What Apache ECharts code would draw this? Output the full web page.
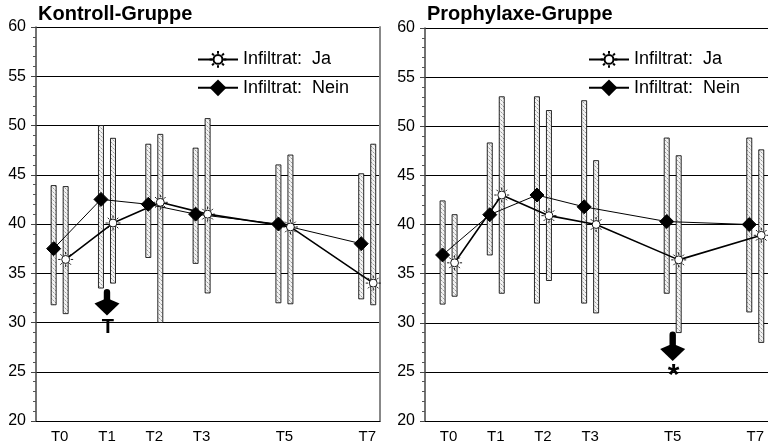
<!DOCTYPE html>
<html>
<head>
<meta charset="utf-8">
<script src="https://cdn.jsdelivr.net/npm/echarts@6/dist/echarts.min.js"></script>
<style>
  html, body { margin: 0; padding: 0; background: #fff; }
  #chart { width: 768px; height: 444px; }
</style>
</head>
<body>
<div id="chart"></div>
<script>
// Measurement times and their positions along the time axis
const timeLabels = ['T0', 'T1', 'T2', 'T3', 'T5', 'T7'];
const timePos = [0, 1, 2, 3, 4.75, 6.5];

// Kontroll-Gruppe: mean and range per time point
const kontrollJaMean   = [36.4, 40.1, 42.2, 41.0, 39.7, 34.0];
const kontrollJaLow    = [30.9, 34.0, 30.0, 33.0, 31.9, 31.8];
const kontrollJaHigh   = [43.8, 48.7, 49.1, 50.7, 47.0, 48.1];
const kontrollNeinMean = [37.5, 42.5, 42.0, 41.0, 40.0, 38.0];
const kontrollNeinLow  = [31.8, 33.5, 36.6, 36.0, 32.0, 32.4];
const kontrollNeinHigh = [43.9, 50.0, 48.1, 47.7, 46.0, 45.1];

// Prophylaxe-Gruppe: mean and range per time point
const prophJaMean   = [36.1, 43.0, 40.9, 40.0, 36.4, 38.9];
const prophJaLow    = [32.7, 33.0, 34.3, 31.0, 29.0, 28.0];
const prophJaHigh   = [41.0, 53.0, 51.6, 46.5, 47.0, 47.6];
const prophNeinMean = [36.9, 41.0, 43.0, 41.8, 40.3, 40.0];
const prophNeinLow  = [31.9, 36.9, 32.0, 32.0, 33.0, 31.1];
const prophNeinHigh = [42.4, 48.3, 53.0, 52.6, 48.8, 48.8];

// Arrow annotations: [time position, shaft top, tip, mark]
const kontrollArrow = [1, 33.4, 30.7, 'T'];
const prophArrow    = [4.75, 29.1, 26.1, '*'];

const seriesNames = ['Infiltrat:  Ja', 'Infiltrat:  Nein'];

// ---- drawing helpers ----
const FONT = 'Liberation Sans, Arial, Helvetica, sans-serif';
const PAIR = 0.127;   // half distance between the paired columns (axis units)

function stipple() {
  const c = document.createElement('canvas');
  c.width = 4; c.height = 4;
  const g = c.getContext('2d');
  g.fillStyle = '#f2f2f2';
  g.fillRect(0, 0, 4, 4);
  g.fillStyle = '#9a9a9a';
  g.fillRect(1, 0, 1, 1);
  g.fillRect(3, 2, 1, 1);
  g.fillStyle = '#c8c8c8';
  g.fillRect(2, 1, 1, 1);
  g.fillRect(0, 3, 1, 1);
  return c;
}
const pattern = { image: stipple(), repeat: 'repeat' };

const SUN = 'path://M15,10A5,5,0,1,1,5,10A5,5,0,1,1,15,10Z' +
  'M16.5,10L19.5,10M3.5,10L0.5,10M10,3.5L10,0.5M10,16.5L10,19.5' +
  'M14.6,5.4L16.7,3.3M5.4,5.4L3.3,3.3M14.6,14.6L16.7,16.7M5.4,14.6L3.3,16.7';

function rangeData(low, high, shift) {
  return timePos.map((x, i) => [x + shift, low[i], high[i]]);
}
function meanData(mean, shift) {
  return timePos.map((x, i) => [x + shift, mean[i]]);
}

function rangeSeries(idx, low, high, shift) {
  return {
    type: 'custom',
    xAxisIndex: idx, yAxisIndex: idx,
    z: 1,
    silent: true,
    data: rangeData(low, high, shift),
    renderItem: function (params, api) {
      const top = api.coord([api.value(0), api.value(2)]);
      const bot = api.coord([api.value(0), api.value(1)]);
      return {
        type: 'rect',
        shape: { x: top[0] - 2.5, y: top[1], width: 5, height: bot[1] - top[1] },
        style: { fill: pattern, stroke: '#111', lineWidth: 0.9 }
      };
    }
  };
}

function arrowSeries(idx, arrow) {
  return {
    type: 'custom',
    xAxisIndex: idx, yAxisIndex: idx,
    z: 5,
    silent: true,
    data: [[arrow[0], arrow[1], arrow[2]]],
    renderItem: function (params, api) {
      const top = api.coord([api.value(0), api.value(1)]);
      const tip = api.coord([api.value(0), api.value(2)]);
      const cx = top[0];
      const half = 12.5, shaft = 3.2;
      const headTop = tip[1] - 15;
      const star = arrow[3] === '*';
      return {
        type: 'group',
        children: [
          { type: 'rect',
            shape: { x: cx - shaft, y: top[1], width: shaft * 2, height: headTop - top[1] + 2, r: [shaft, shaft, 0, 0] },
            style: { fill: '#000' } },
          { type: 'polygon',
            shape: { points: [[cx - shaft, headTop - 1], [cx - half, headTop + 3], [cx, tip[1]],
                              [cx + half, headTop + 3], [cx + shaft, headTop - 1]] },
            style: { fill: '#000' } },
          { type: 'text',
            style: { x: cx + 1, y: tip[1] + (star ? 0 : 2), text: arrow[3], fill: '#000',
                     font: 'bold ' + (star ? 30 : 20) + 'px ' + FONT,
                     align: 'center', verticalAlign: 'top' } }
        ]
      };
    }
  };
}

function lineSeries(idx, name, mean, shift, isJa) {
  return {
    type: 'line',
    name: name,
    xAxisIndex: idx, yAxisIndex: idx,
    z: 3,
    data: meanData(mean, shift),
    symbol: isJa ? SUN : 'diamond',
    symbolSize: isJa ? 15 : 14,
    showAllSymbol: true,
    lineStyle: { color: '#000', width: isJa ? 1.6 : 1 },
    itemStyle: isJa ? { color: '#fff', borderColor: '#000', borderWidth: 0.9 }
                    : { color: '#000', borderColor: '#000' },
    emphasis: { disabled: true },
    animation: false
  };
}

const yAxisBase = {
  type: 'value', min: 20, max: 60, interval: 5,
  axisLine: { show: true, onZero: false, lineStyle: { color: '#444', width: 1.5 } },
  axisTick: { show: true, length: 5, lineStyle: { color: '#444' } },
  minorTick: { show: true, splitNumber: 5, length: 3, lineStyle: { color: '#555' } },
  splitLine: { show: true, lineStyle: { color: '#000', width: 1 } },
  axisLabel: { color: '#000', fontSize: 16, fontFamily: FONT, margin: 10 }
};

const xAxisBase = {
  type: 'value', min: -0.5, max: 6.77,
  axisLine: { show: true, onZero: false, lineStyle: { color: '#000', width: 1 } },
  axisTick: { show: false },
  splitLine: { show: false },
  axisLabel: {
    color: '#000', fontSize: 15, fontFamily: FONT, margin: 8,
    customValues: timePos,
    formatter: function (v) {
      const i = timePos.findIndex(p => Math.abs(p - v) < 1e-6);
      return i >= 0 ? timeLabels[i] : '';
    }
  }
};

const legendBase = {
  orient: 'vertical', itemWidth: 40, itemHeight: 21, itemGap: 10,
  data: seriesNames, selectedMode: false,
  textStyle: { fontSize: 18, fontFamily: FONT, color: '#000' }
};

const titleStyle = { fontSize: 20, fontWeight: 'bold', fontFamily: FONT, color: '#000' };

const chart = echarts.init(document.getElementById('chart'), null, { renderer: 'canvas' });

chart.setOption({
  animation: false,
  backgroundColor: '#fff',
  title: [
    { text: 'Kontroll-Gruppe', left: 33, top: -1, textStyle: titleStyle },
    { text: 'Prophylaxe-Gruppe', left: 422, top: -1, textStyle: titleStyle }
  ],
  legend: [
    Object.assign({ left: 192, top: 45 }, legendBase),
    Object.assign({ left: 583, top: 45 }, legendBase)
  ],
  grid: [
    { left: 36, top: 27, width: 344, height: 396 },
    { left: 425, top: 28, width: 347, height: 395 }
  ],
  xAxis: [
    Object.assign({ gridIndex: 0 }, xAxisBase),
    Object.assign({ gridIndex: 1 }, xAxisBase)
  ],
  yAxis: [
    Object.assign({ gridIndex: 0 }, yAxisBase),
    Object.assign({ gridIndex: 1 }, yAxisBase),
    { gridIndex: 0, type: 'value', min: 20, max: 60, position: 'right',
      axisLine: { show: true, onZero: false, lineStyle: { color: '#888', width: 2 } },
      axisTick: { show: false }, axisLabel: { show: false }, splitLine: { show: false } }
  ],
  series: [
    rangeSeries(0, kontrollNeinLow, kontrollNeinHigh, -PAIR),
    rangeSeries(0, kontrollJaLow, kontrollJaHigh, PAIR),
    lineSeries(0, seriesNames[0], kontrollJaMean, PAIR, true),
    lineSeries(0, seriesNames[1], kontrollNeinMean, -PAIR, false),
    arrowSeries(0, kontrollArrow),

    rangeSeries(1, prophNeinLow, prophNeinHigh, -PAIR),
    rangeSeries(1, prophJaLow, prophJaHigh, PAIR),
    lineSeries(1, seriesNames[0], prophJaMean, PAIR, true),
    lineSeries(1, seriesNames[1], prophNeinMean, -PAIR, false),
    arrowSeries(1, prophArrow)
  ]
});
</script>
</body>
</html>
